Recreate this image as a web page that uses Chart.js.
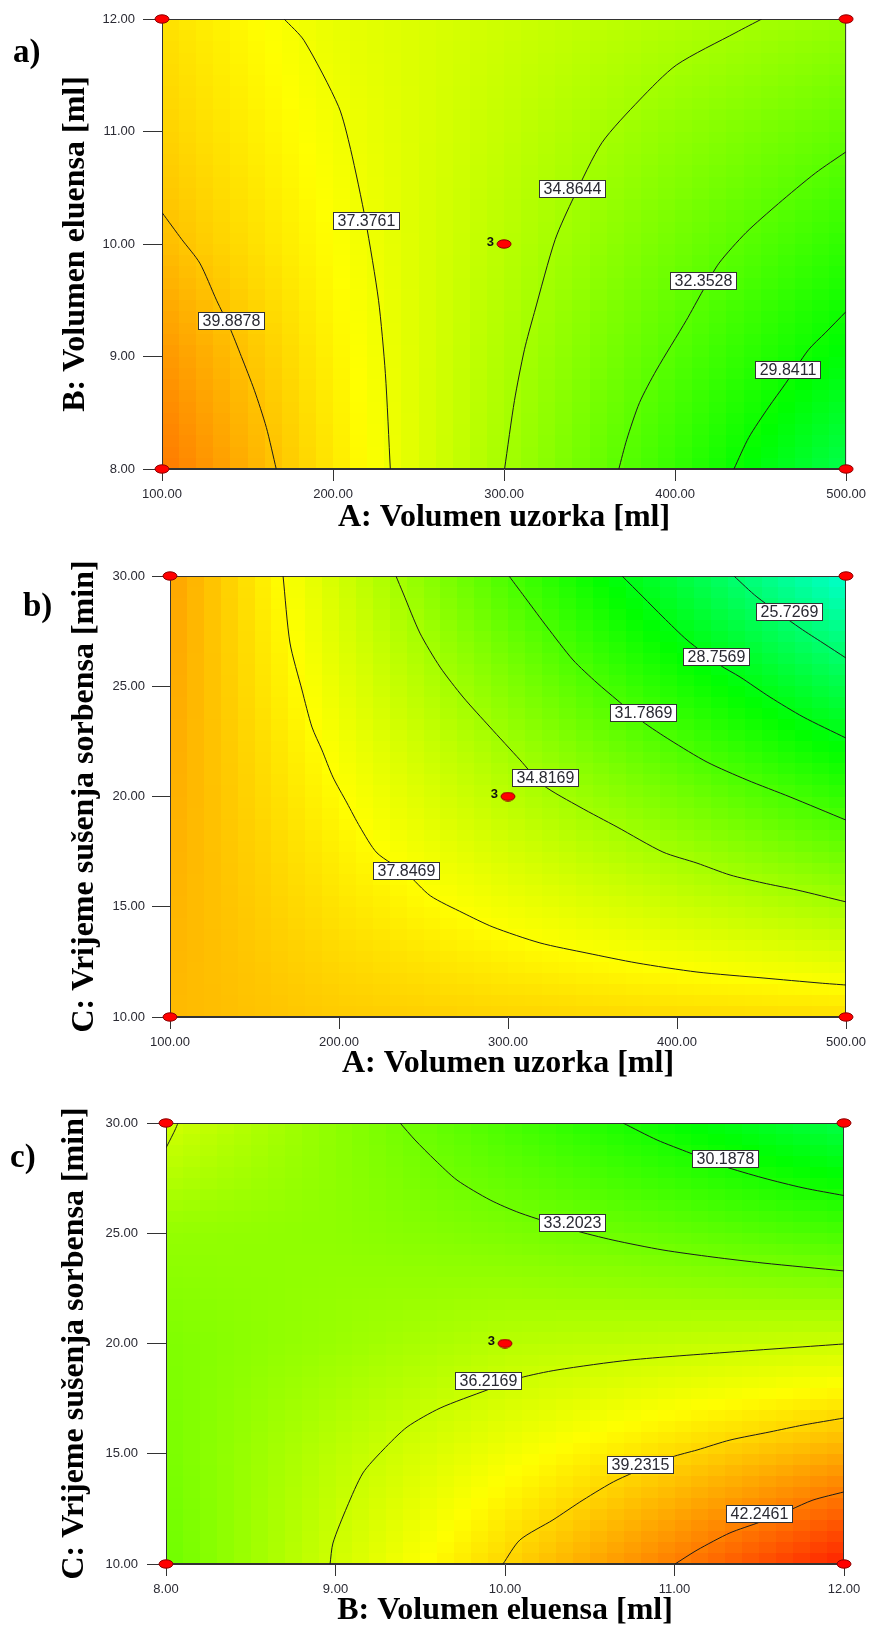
<!DOCTYPE html>
<html lang="hr">
<head>
<meta charset="UTF-8">
<title>Konturni dijagrami odziva</title>
<script src="https://cdn.jsdelivr.net/npm/chart.js@4.4.1/dist/chart.umd.min.js"></script>
<style>
  html, body { margin: 0; padding: 0; background: #fff; }
  body { width: 872px; height: 1634px; position: relative; overflow: hidden; }
  canvas { position: absolute; left: 0; }
  #chart-a { top: 0; }
  #chart-b { top: 540px; }
  #chart-c { top: 1086px; }
</style>
</head>
<body>
<canvas id="chart-a" width="872" height="537"></canvas>
<canvas id="chart-b" width="872" height="543"></canvas>
<canvas id="chart-c" width="872" height="544"></canvas>

<script>
const SANS = "'Liberation Sans', Arial, sans-serif";
const SERIF = "'Liberation Serif', 'Times New Roman', serif";
const INK = '#2a2a33';

// colour scale of the response: blue - cyan - green - yellow - red
const COLOUR_LOW = 12.3;
const COLOUR_HIGH = 46.4;
const COLOUR_STOPS = [[0, 0, 255], [0, 255, 255], [0, 255, 0], [255, 255, 0], [255, 0, 0]];

// ---- a) A: Volumen uzorka / B: Volumen eluensa
const aAxisX = [100, 200, 300, 400, 500];
const aAxisY = [8, 9, 10, 11, 12];
// response, rows B = 8 .. 12, columns A = 100 .. 500
const aSurface = [
    [42.4, 38.64, 34.88, 31.12, 26.8],
    [41.4, 38.29, 35.2, 32.15, 29.05],
    [40.1, 37.87, 35.55, 33.19, 30.9],
    [39.4, 37.52, 35.89, 34.2, 32.67],
    [38.9, 37.12, 36.22, 35.33, 34.4]
];
const aLevels = ['39.8878', '37.3761', '34.8644', '32.3528', '29.8411'];
const aContours = [
    [[100, 10.28], [111.6, 10.04], [122.1, 9.83], [131.9, 9.5], [139.5, 9.26], [146.4, 9.0], [154.0, 8.7], [161.0, 8.37], [166.8, 8.0]],
    [[171.4, 12], [183.0, 11.81], [203.3, 11.22], [210.3, 10.84], [219.0, 10.21], [226.6, 9.5], [230.6, 8.85], [233.5, 8.0]],
    [[450.7, 12], [435.6, 11.88], [400.7, 11.59], [379.2, 11.28], [357.2, 10.9], [340.9, 10.42], [329.9, 10.04], [317.7, 9.39], [311.9, 9.06], [306.1, 8.61], [300.3, 8.0]],
    [[500, 10.82], [482.0, 10.63], [460.5, 10.36], [441.4, 10.1], [425.7, 9.83], [416.4, 9.59], [406.5, 9.32], [389.1, 8.88], [379.2, 8.59], [371.7, 8.26], [367.1, 8.0]],
    [[500, 9.4], [487.8, 9.21], [478.0, 9.06], [464.6, 8.76], [454.7, 8.55], [443.1, 8.28], [434.4, 8.0]]
];
const aLabelAt = [[140.1, 9.32], [219.3, 10.21], [339.8, 10.49], [416.4, 9.68], [465.5, 8.88]];
const aRuns = [[100, 8], [100, 12], [500, 8], [500, 12], [300, 10]];

// ---- b) A: Volumen uzorka / C: Vrijeme sušenja sorbensa
const bAxisX = [100, 200, 300, 400, 500];
const bAxisY = [10, 15, 20, 25, 30];
// rows C = 10 .. 30, columns A = 100 .. 500
const bSurface = [
    [40.2, 39.6, 39.3, 39.1, 39.0],
    [40.4, 38.75, 37.43, 36.19, 34.95],
    [40.6, 37.95, 35.55, 33.28, 30.95],
    [40.8, 37.11, 33.72, 30.28, 26.85],
    [41.0, 36.35, 31.82, 27.29, 22.5]
];
const bLevels = ['37.8469', '34.8169', '31.7869', '28.7569', '25.7269'];
const bContours = [
    [[166.9, 30], [171.0, 26.96], [178.1, 24.83], [184.0, 23.15], [189.9, 22.11], [196.4, 20.88], [204.7, 19.71], [212.4, 18.62], [222.5, 17.44], [240.2, 16.5], [254.0, 15.5], [273.4, 14.72], [291.1, 14.08], [318.9, 13.36], [346.7, 12.9], [376.3, 12.45], [411.8, 12.04], [450.9, 11.77], [484.6, 11.54], [500, 11.45]],
    [[233.7, 30], [237.9, 29.23], [247.9, 27.41], [259.8, 25.87], [273.4, 24.51], [289.3, 23.15], [307.1, 21.66], [320.7, 20.52], [342.6, 19.52], [364.5, 18.62], [391.7, 17.48], [411.8, 16.98], [431.4, 16.44], [450.9, 16.08], [471.0, 15.76], [500, 15.22]],
    [[300.6, 30], [311.2, 28.91], [323.1, 27.69], [338.5, 26.19], [352.7, 25.15], [364.5, 24.38], [379.9, 23.38], [395.9, 22.56], [417.8, 21.56], [441.4, 20.75], [466.9, 19.98], [500, 18.93]],
    [[367.5, 30], [379.9, 29.05], [391.7, 28.14], [405.9, 27.1], [425.4, 25.96], [437.3, 25.42], [455.0, 24.51], [474.6, 23.61], [500, 22.65]],
    [[433.7, 30], [447.3, 29.05], [472.8, 27.64], [486.4, 26.96], [500, 26.28]]
];
const bLabelAt = [[239.6, 16.64], [321.6, 20.88], [379.9, 23.79], [423.1, 26.37], [466.0, 28.39]];
const bRuns = [[100, 10], [100, 30], [500, 10], [500, 30], [300, 20]];

// ---- c) B: Volumen eluensa / C: Vrijeme sušenja sorbensa
const cAxisX = [8, 9, 10, 11, 12];
const cAxisY = [10, 15, 20, 25, 30];
// rows C = 10 .. 30, columns B = 8 .. 12
const cSurface = [
    [33.0, 36.31, 39.27, 42.24, 45.3],
    [33.4, 35.64, 37.47, 39.15, 40.69],
    [33.6, 34.5, 35.5, 35.84, 36.2],
    [34.3, 34.1, 33.5, 32.67, 31.7],
    [36.4, 34.08, 31.78, 29.49, 27.0]
];
const cLevels = ['36.2169', '30.1878', '33.2023', '36.2169', '39.2315', '42.2461'];
const cContours = [
    [[8.071, 30], [8.053, 29.68], [8.024, 29.23], [8.0, 28.87]],
    [[10.696, 30], [10.897, 29.23], [11.091, 28.64], [11.286, 28.05], [11.522, 27.51], [11.758, 27.06], [12, 26.71]],
    [[9.381, 30], [9.469, 29.23], [9.587, 28.32], [9.717, 27.41], [9.912, 26.51], [10.088, 25.92], [10.401, 25.15], [10.637, 24.69], [10.932, 24.24], [11.227, 23.92], [11.522, 23.65], [12, 23.29]],
    [[8.968, 10], [8.985, 10.95], [9.068, 12.59], [9.162, 14.13], [9.28, 15.17], [9.422, 16.21], [9.617, 17.07], [9.894, 17.89], [10.088, 18.44], [10.307, 18.8], [10.737, 19.25], [11.327, 19.61], [12, 19.98]],
    [[9.988, 10], [10.088, 11.09], [10.283, 12.0], [10.46, 12.9], [10.661, 13.81], [10.985, 14.85], [11.133, 15.17], [11.327, 15.62], [11.563, 15.99], [11.758, 16.3], [12, 16.62]],
    [[11.003, 10], [11.133, 10.63], [11.327, 11.41], [11.504, 11.9], [11.681, 12.45], [11.817, 12.9], [12, 13.27]]
];
const cLabelAt = [null, [11.295, 28.41], [10.395, 25.51], [9.897, 18.32], [10.796, 14.51], [11.496, 12.31]];
const cRuns = [[8, 10], [8, 30], [12, 10], [12, 30], [10, 20]];

const CENTRE_REPEATS = '3';

function colour(v) {
    let t = (v - COLOUR_LOW) / (COLOUR_HIGH - COLOUR_LOW);
    t = Math.max(0, Math.min(1, t)) * 4;
    const k = Math.min(3, Math.floor(t));
    const f = t - k;
    const a = COLOUR_STOPS[k], b = COLOUR_STOPS[k + 1];
    const c = a.map((q, i) => Math.round(q + (b[i] - q) * f));
    return `rgb(${c[0]},${c[1]},${c[2]})`;
}

// value between the read grid nodes (for the shading only)
function sample(grid, xs, ys, xv, yv) {
    const dx = xs[1] - xs[0], dy = ys[1] - ys[0];
    const i = Math.max(0, Math.min(xs.length - 2, Math.floor((xv - xs[0]) / dx)));
    const j = Math.max(0, Math.min(ys.length - 2, Math.floor((yv - ys[0]) / dy)));
    const u = (xv - xs[i]) / dx, w = (yv - ys[j]) / dy;
    const lo = grid[j][i] * (1 - u) + grid[j][i + 1] * u;
    const hi = grid[j + 1][i] * (1 - u) + grid[j + 1][i + 1] * u;
    return lo * (1 - w) + hi * w;
}

function redDot() {
    const c = document.createElement('canvas');
    c.width = 16; c.height = 10;
    const g = c.getContext('2d');
    g.beginPath();
    g.ellipse(8, 5, 7, 4.2, 0, 0, Math.PI * 2);
    g.fillStyle = '#ff0000';
    g.fill();
    g.lineWidth = 1;
    g.strokeStyle = '#8a0000';
    g.stroke();
    return c;
}

function makeChart(id, d, lay) {
    const datasets = d.contours.map(pts => ({
        data: pts.map(p => ({ x: p[0], y: p[1] })),
        showLine: true,
        borderColor: '#1c1c1c',
        borderWidth: 1,
        pointRadius: 0,
        pointHoverRadius: 0,
        tension: 0.25
    }));
    datasets.push({
        data: d.runs.map(p => ({ x: p[0], y: p[1] })),
        pointStyle: redDot(),
        pointRadius: 7,
        showLine: false,
        clip: false
    });

    const surface = {
        id: 'surface',
        beforeDatasetsDraw(chart) {
            const { ctx, chartArea: area, scales: { x, y } } = chart;
            const n = 40;
            const x0 = d.axisX[0], x1 = d.axisX[d.axisX.length - 1];
            const y0 = d.axisY[0], y1 = d.axisY[d.axisY.length - 1];
            ctx.save();
            for (let i = 0; i < n; i++) {
                const xa = x0 + (x1 - x0) * i / n, xb = x0 + (x1 - x0) * (i + 1) / n;
                const pa = Math.round(x.getPixelForValue(xa)), pb = Math.round(x.getPixelForValue(xb));
                for (let j = 0; j < n; j++) {
                    const ya = y0 + (y1 - y0) * j / n, yb = y0 + (y1 - y0) * (j + 1) / n;
                    const qa = Math.round(y.getPixelForValue(ya)), qb = Math.round(y.getPixelForValue(yb));
                    ctx.fillStyle = colour(sample(d.surface, d.axisX, d.axisY, (xa + xb) / 2, (ya + yb) / 2));
                    ctx.fillRect(pa, qb, pb - pa, qa - qb);
                }
            }
            ctx.strokeStyle = '#333';
            ctx.lineWidth = 1;
            ctx.strokeRect(area.left + 0.5, area.top + 0.5, area.width - 1, area.height - 1);
            ctx.restore();
        }
    };

    const notes = {
        id: 'notes',
        afterDatasetsDraw(chart) {
            const { ctx, scales: { x, y } } = chart;
            ctx.save();
            ctx.font = `16px ${SANS}`;
            ctx.textAlign = 'center';
            ctx.textBaseline = 'middle';
            d.levels.forEach((txt, k) => {
                const at = d.labelAt[k];
                if (!at) return;
                const px = x.getPixelForValue(at[0]), py = y.getPixelForValue(at[1]);
                const w = Math.round(ctx.measureText(txt).width + 8), h = 17;
                const bx = Math.round(px - w / 2) + 0.5, by = Math.round(py - h / 2) + 0.5;
                ctx.fillStyle = '#fff';
                ctx.fillRect(bx, by, w, h);
                ctx.strokeStyle = '#333';
                ctx.lineWidth = 1;
                ctx.strokeRect(bx, by, w, h);
                ctx.fillStyle = INK;
                ctx.fillText(txt, bx + w / 2, by + h / 2 + 1);
            });
            // repeat count next to the centre point
            const c = d.runs[d.runs.length - 1];
            ctx.font = `bold 13px ${SANS}`;
            ctx.textAlign = 'right';
            ctx.fillStyle = '#111';
            ctx.fillText(CENTRE_REPEATS, x.getPixelForValue(c[0]) - 10, y.getPixelForValue(c[1]) - 2);
            ctx.restore();
        },
        afterDraw(chart) {
            const { ctx, chartArea: area } = chart;
            ctx.save();
            ctx.fillStyle = '#000';
            ctx.font = `bold 32px ${SERIF}`;
            ctx.textAlign = 'center';
            ctx.textBaseline = 'middle';
            ctx.translate(lay.titleX, (area.top + area.bottom) / 2);
            ctx.rotate(-Math.PI / 2);
            ctx.fillText(d.titleY, 0, 0);
            ctx.restore();

            ctx.save();
            ctx.fillStyle = '#000';
            ctx.font = `bold 33px ${SERIF}`;
            ctx.textAlign = 'left';
            ctx.textBaseline = 'alphabetic';
            ctx.fillText(d.tag, lay.tagX, lay.tagY);
            ctx.restore();
        }
    };

    const tickFont = { family: SANS, size: 13 };
    return new Chart(document.getElementById(id), {
        type: 'scatter',
        data: { datasets },
        options: {
            responsive: false,
            animation: false,
            events: [],
            layout: { padding: { top: lay.top, right: lay.right, left: 0, bottom: 0 } },
            plugins: { legend: { display: false }, tooltip: { enabled: false } },
            scales: {
                x: {
                    type: 'linear',
                    min: d.axisX[0],
                    max: d.axisX[d.axisX.length - 1],
                    afterBuildTicks: s => { s.ticks = d.axisX.map(v => ({ value: v })); },
                    ticks: { callback: v => Number(v).toFixed(2), font: tickFont, color: INK, padding: 6, maxRotation: 0 },
                    grid: { drawOnChartArea: false, drawTicks: true, tickLength: 12, color: '#333' },
                    border: { display: true, color: '#333' },
                    title: { display: true, text: d.titleX, color: '#000', padding: 0,
                             font: { family: SERIF, size: 32, weight: 'bold' } },
                    afterFit: s => { s.height = lay.xh; }
                },
                y: {
                    type: 'linear',
                    min: d.axisY[0],
                    max: d.axisY[d.axisY.length - 1],
                    afterBuildTicks: s => { s.ticks = d.axisY.map(v => ({ value: v })); },
                    ticks: { callback: v => Number(v).toFixed(2), font: tickFont, color: INK, padding: lay.ypad },
                    grid: { drawOnChartArea: false, drawTicks: true, tickLength: lay.ytick, color: '#333' },
                    border: { display: true, color: '#333' },
                    title: { display: false },
                    afterFit: s => { s.width = lay.left; }
                }
            }
        },
        plugins: [surface, notes]
    });
}

makeChart('chart-a', {
    tag: 'a)', titleX: 'A: Volumen uzorka [ml]', titleY: 'B: Volumen eluensa [ml]',
    axisX: aAxisX, axisY: aAxisY, surface: aSurface, levels: aLevels,
    contours: aContours, labelAt: aLabelAt, runs: aRuns
}, { top: 19, right: 21, left: 162, xh: 68, ytick: 19, ypad: 8, titleX: 76, tagX: 13, tagY: 62 });

makeChart('chart-b', {
    tag: 'b)', titleX: 'A: Volumen uzorka [ml]', titleY: 'C: Vrijeme sušenja sorbensa [min]',
    axisX: bAxisX, axisY: bAxisY, surface: bSurface, levels: bLevels,
    contours: bContours, labelAt: bLabelAt, runs: bRuns
}, { top: 36, right: 26, left: 170, xh: 66, ytick: 18, ypad: 7, titleX: 85, tagX: 23, tagY: 76 });

makeChart('chart-c', {
    tag: 'c)', titleX: 'B: Volumen eluensa [ml]', titleY: 'C: Vrijeme sušenja sorbensa [min]',
    axisX: cAxisX, axisY: cAxisY, surface: cSurface, levels: cLevels,
    contours: cContours, labelAt: cLabelAt, runs: cRuns
}, { top: 37, right: 28, left: 166, xh: 66, ytick: 19, ypad: 9, titleX: 75, tagX: 10, tagY: 81 });
</script>
</body>
</html>
